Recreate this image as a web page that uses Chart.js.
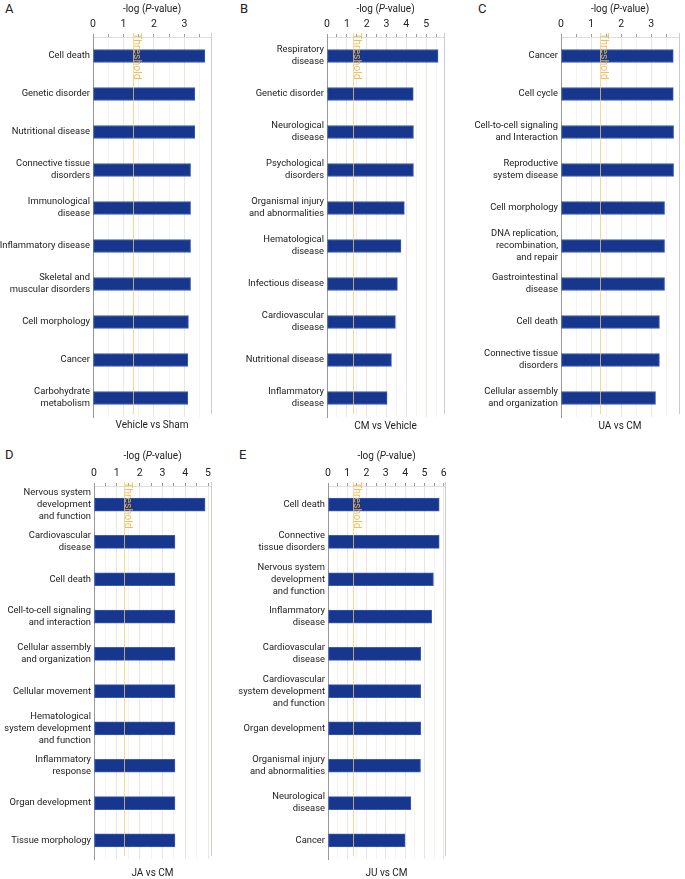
<!DOCTYPE html>
<html>
<head>
<meta charset="utf-8">
<script src="https://cdn.jsdelivr.net/npm/chart.js@4"></script>
<style>
  body { margin: 0; background: #fff; }
  #wrap { position: relative; width: 685px; height: 879px; }
  canvas { position: absolute; }
  .tag { position: absolute; font: 13px Roboto, sans-serif; color: #222; }
</style>
</head>
<body>
<div id="wrap">
  <div class="tag" style="left:5px;top:1px">A</div>
  <div class="tag" style="left:240px;top:1px">B</div>
  <div class="tag" style="left:478px;top:1px">C</div>
  <div class="tag" style="left:5px;top:447px">D</div>
  <div class="tag" style="left:239px;top:447px">E</div>
  <canvas id="cA" width="225" height="440" style="left:0;top:0"></canvas>
  <canvas id="cB" width="225" height="440" style="left:225px;top:0"></canvas>
  <canvas id="cC" width="235" height="440" style="left:450px;top:0"></canvas>
  <canvas id="cD" width="225" height="439" style="left:0;top:440px"></canvas>
  <canvas id="cE" width="230" height="439" style="left:225px;top:440px"></canvas>
</div>
<script>
// -log(p) threshold (p = 0.05)
const threshold = 1.3;

const catsA = ['Cell death', 'Genetic disorder', 'Nutritional disease', ['Connective tissue', 'disorders'],
  ['Immunological', 'disease'], 'Inflammatory disease', ['Skeletal and', 'muscular disorders'],
  'Cell morphology', 'Cancer', ['Carbohydrate', 'metabolism']];
const valsA = [3.67, 3.34, 3.34, 3.2, 3.2, 3.2, 3.2, 3.13, 3.11, 3.11];

const catsB = [['Respiratory', 'disease'], 'Genetic disorder', ['Neurological', 'disease'],
  ['Psychological', 'disorders'], ['Organismal injury', 'and abnormalities'], ['Hematological', 'disease'],
  'Infectious disease', ['Cardiovascular', 'disease'], 'Nutritional disease', ['Inflammatory', 'disease']];
const valsB = [5.6, 4.35, 4.36, 4.36, 3.9, 3.73, 3.55, 3.45, 3.25, 3.03];

const catsC = ['Cancer', 'Cell cycle', ['Cell-to-cell signaling', 'and Interaction'],
  ['Reproductive', 'system disease'], 'Cell morphology', ['DNA replication,', 'recombination,', 'and repair'],
  ['Gastrointestinal', 'disease'], 'Cell death', ['Connective tissue', 'disorders'],
  ['Cellular assembly', 'and organization']];
const valsC = [3.73, 3.73, 3.74, 3.74, 3.44, 3.44, 3.44, 3.27, 3.27, 3.14];

const catsD = [['Nervous system', 'development', 'and function'], ['Cardiovascular', 'disease'], 'Cell death',
  ['Cell-to-cell signaling', 'and interaction'], ['Cellular assembly', 'and organization'], 'Cellular movement',
  ['Hematological', 'system development', 'and function'], ['Inflammatory', 'response'],
  'Organ development', 'Tissue morphology'];
const valsD = [4.87, 3.55, 3.55, 3.55, 3.55, 3.55, 3.55, 3.55, 3.55, 3.55];

const catsE = ['Cell death', ['Connective', 'tissue disorders'], ['Nervous system', 'development', 'and function'],
  ['Inflammatory', 'disease'], ['Cardiovascular', 'disease'], ['Cardiovascular', 'system development', 'and function'],
  'Organ development', ['Organismal injury', 'and abnormalities'], ['Neurological', 'disease'], 'Cancer'];
const valsE = [5.77, 5.77, 5.47, 5.38, 4.81, 4.81, 4.81, 4.8, 4.3, 4.0];

const comparisons = ['Vehicle vs Sham', 'CM vs Vehicle', 'UA vs CM', 'JA vs CM', 'JU vs CM'];
const axisMax = [3.87, 5.9, 3.92, 5.13, 6.07];

const FONT = 'Roboto, "Liberation Sans", sans-serif';

const extras = {
  id: 'extras',
  afterDatasetsDraw(chart, args, opts) {
    const ctx = chart.ctx;
    const a = chart.chartArea;
    const x = chart.scales.x;
    const y = chart.scales.y;
    ctx.save();
    // right frame
    ctx.strokeStyle = '#cccccc';
    ctx.lineWidth = 1;
    ctx.beginPath();
    ctx.moveTo(Math.round(a.right) + 0.5, a.top - 4);
    ctx.lineTo(Math.round(a.right) + 0.5, a.bottom - 3);
    ctx.stroke();
    // threshold line + label
    const tx = Math.round(x.getPixelForValue(threshold)) + 0.5;
    ctx.strokeStyle = 'rgba(244, 200, 120, 0.75)';
    ctx.beginPath();
    ctx.moveTo(tx, a.top - 4);
    ctx.lineTo(tx, a.bottom - 3);
    ctx.stroke();
    ctx.save();
    ctx.translate(tx + 3, a.top - 4);
    ctx.rotate(Math.PI / 2);
    ctx.fillStyle = 'rgba(240, 182, 70, 0.9)';
    ctx.font = '10.5px ' + FONT;
    ctx.textBaseline = 'middle';
    ctx.textAlign = 'left';
    ctx.fillText('Threshold', 0, 0);
    ctx.restore();
    // value tick labels (integers) above the plot
    ctx.fillStyle = '#222';
    ctx.font = '10.5px ' + FONT;
    ctx.textAlign = 'center';
    ctx.textBaseline = 'middle';
    x.ticks.forEach(t => {
      if (t.value % 1 === 0) ctx.fillText(String(t.value), x.getPixelForValue(t.value), a.top - 13);
    });
    // category labels, right aligned against the axis
    ctx.fillStyle = '#1a1a1a';
    ctx.font = '9.4px ' + FONT;
    ctx.textAlign = 'right';
    chart.data.labels.forEach((lab, i) => {
      const lines = Array.isArray(lab) ? lab : [lab];
      const cy = y.getPixelForValue(i);
      const y0 = cy - (lines.length - 1) * 6;
      lines.forEach((ln, k) => ctx.fillText(ln, a.left - 3, y0 + k * 12));
    });
    // axis title with italic P
    const cx = (a.left + a.right) / 2;
    const parts = [['-log (', ''], ['P', 'italic '], ['-value)', '']];
    ctx.fillStyle = '#222';
    ctx.textAlign = 'left';
    let w = 0;
    parts.forEach(p => { ctx.font = p[1] + '10px ' + FONT; w += ctx.measureText(p[0]).width; });
    let px = cx - w / 2;
    parts.forEach(p => {
      ctx.font = p[1] + '10px ' + FONT;
      ctx.fillText(p[0], px, opts.titleY);
      px += ctx.measureText(p[0]).width;
    });
    // comparison label under panel
    ctx.font = '10px ' + FONT;
    ctx.textAlign = 'center';
    ctx.fillText(opts.sub, cx, opts.subY);
    ctx.restore();
  }
};

function makePanel(id, cats, vals, max, sub, box) {
  return new Chart(document.getElementById(id), {
    type: 'bar',
    data: {
      labels: cats,
      datasets: [{
        data: vals,
        backgroundColor: '#17378e',
        borderColor: '#3a5cb4',
        borderWidth: 1,
        borderSkipped: false,
        barThickness: 13
      }]
    },
    options: {
      indexAxis: 'y',
      responsive: false,
      animation: false,
      devicePixelRatio: 1,
      layout: { padding: { left: 0, top: 0, right: box.right, bottom: box.bottom } },
      plugins: {
        legend: { display: false },
        tooltip: { enabled: false },
        extras: { sub: sub, titleY: box.titleY, subY: box.subY }
      },
      scales: {
        x: {
          position: 'top',
          min: 0,
          max: max,
          afterFit: s => { s.height = box.top; },
          border: { display: true, color: '#dedede' },
          grid: {
            color: c => (c.tick && c.tick.value % 1 === 0) ? '#ebe7df' : '#f6f3ee',
            tickColor: '#9a9a9a',
            tickLength: 3
          },
          ticks: {
            display: false,
            stepSize: 0.5,
            includeBounds: false,
            autoSkip: false
          }
        },
        y: {
          afterFit: s => { s.width = box.left; },
          border: { display: true, color: '#999999' },
          grid: { display: false, drawTicks: false },
          ticks: { display: false, autoSkip: false }
        }
      }
    },
    plugins: [extras]
  });
}

makePanel('cA', catsA, valsA, axisMax[0], comparisons[0], { left: 93, right: 14, top: 37, bottom: 23, titleY: 9, subY: 425 });
makePanel('cB', catsB, valsB, axisMax[1], comparisons[1], { left: 102, right: 6, top: 37, bottom: 23, titleY: 9, subY: 426 });
makePanel('cC', catsC, valsC, axisMax[2], comparisons[2], { left: 111, right: 6, top: 37, bottom: 23, titleY: 9, subY: 426 });
makePanel('cD', catsD, valsD, axisMax[3], comparisons[3], { left: 94, right: 14, top: 46, bottom: 20, titleY: 16, subY: 433 });
makePanel('cE', catsE, valsE, axisMax[4], comparisons[4], { left: 103, right: 10, top: 46, bottom: 20, titleY: 16, subY: 433 });
</script>
</body>
</html>
